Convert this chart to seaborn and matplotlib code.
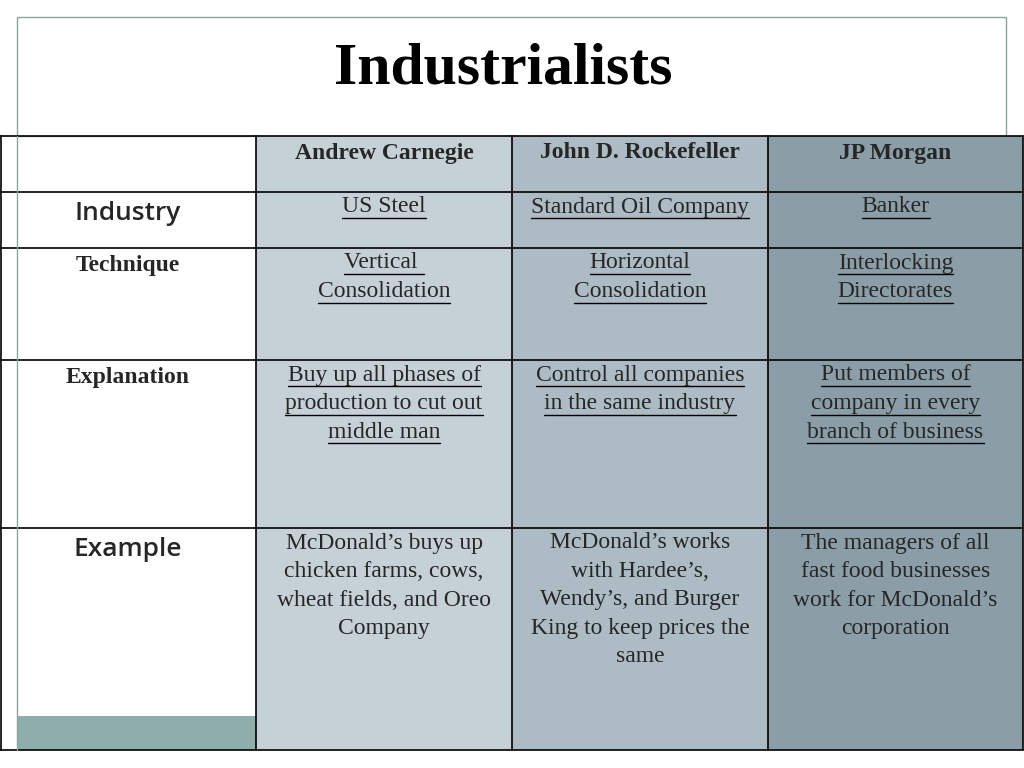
import matplotlib.pyplot as plt
import seaborn as sns
from matplotlib.patches import Rectangle

sns.set_theme(style="white")

title = "Industrialists"
people = ["Andrew Carnegie", "John D. Rockefeller", "JP Morgan"]
row_labels = ["Industry", "Technique", "Explanation", "Example"]
row_label_sans = [True, False, False, True]
cells = [
    ["US Steel", "Standard Oil Company", "Banker"],
    ["Vertical \nConsolidation", "Horizontal\nConsolidation", "Interlocking\nDirectorates"],
    ["Buy up all phases of\nproduction to cut out\nmiddle man",
     "Control all companies\nin the same industry",
     "Put members of\ncompany in every\nbranch of business"],
    ["McDonald\u2019s buys up\nchicken farms, cows,\nwheat fields, and Oreo\nCompany",
     "McDonald\u2019s works\nwith Hardee\u2019s,\nWendy\u2019s, and Burger\nKing to keep prices the\nsame",
     "The managers of all\nfast food businesses\nwork for McDonald\u2019s\ncorporation"],
]
underlined = [True, True, True, False]
col_colors = ["#c6d1d7", "#adbcc4", "#8b9ea8"]

col_x = [0, 256, 512, 768, 1023]
row_y = [136, 192, 248, 360, 528, 750]

fig = plt.figure(figsize=(10.24, 7.68), dpi=100)
ax = fig.add_axes([0, 0, 1, 1])
ax.set_xlim(0, 1024)
ax.set_ylim(768, 0)
ax.axis("off")

# title box
ax.add_patch(Rectangle((17, 17), 989, 119, fill=False, ec="#8aa6a0", lw=1))
ax.text(503, 70, title, ha="center", va="center", fontsize=43,
        fontweight="bold", family="Liberation Serif", color="black")

# column backgrounds
for j, c in enumerate(col_colors):
    ax.add_patch(Rectangle((col_x[j + 1], row_y[0]), col_x[j + 2] - col_x[j + 1],
                           row_y[-1] - row_y[0], color=c, lw=0))
ax.add_patch(Rectangle((17, 716), 239, 34, color="#8fadaa", lw=0))

# grid lines
for y in row_y:
    ax.plot([0, 1023], [y, y], color="black", lw=1.2)
for x in col_x[1:]:
    ax.plot([x, x], [row_y[0], row_y[-1]], color="black", lw=1.2)
ax.plot([1, 1], [row_y[0], row_y[-1]], color="black", lw=1.2)
ax.plot([17, 17], [row_y[0], row_y[-1]], color="#8aa6a0", lw=1)

for j, p in enumerate(people):
    cx = (col_x[j + 1] + col_x[j + 2]) / 2
    ax.text(cx, 153, p, ha="center", va="center", fontsize=17,
            fontweight="bold", family="Liberation Serif")

fig.canvas.draw()
renderer = fig.canvas.get_renderer()
line_h = 28.5
for i, lab in enumerate(row_labels):
    top = row_y[i + 1]
    if row_label_sans[i]:
        ax.text(128, top + 22, lab, ha="center", va="center", fontsize=19,
                fontweight="semibold", family="Open Sans")
    else:
        ax.text(128, top + 17, lab, ha="center", va="center", fontsize=17,
                fontweight="bold", family="Liberation Serif")
    for j in range(3):
        cx = (col_x[j + 1] + col_x[j + 2]) / 2
        for k, line in enumerate(cells[i][j].split("\n")):
            y = top + 15 + k * line_h
            t = ax.text(cx, y, line, ha="center", va="center", fontsize=17,
                        family="Liberation Serif")
            if underlined[i]:
                bb = t.get_window_extent(renderer).transformed(ax.transData.inverted())
                ax.plot([bb.x0, bb.x1], [y + 11, y + 11], color="black", lw=1)

fig.savefig("out.png", dpi=100)
